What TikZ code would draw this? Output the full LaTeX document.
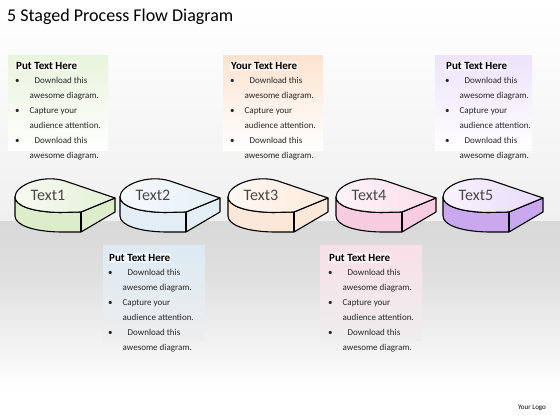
\documentclass[tikz,border=0pt]{standalone}
\usepackage{fontspec}
\setmainfont{Carlito}
\usepackage{xcolor}
\usetikzlibrary{positioning}

\definecolor{onetop}{HTML}{E3F0D4}
\definecolor{oneside}{HTML}{DDEDCB}
\definecolor{twotop}{HTML}{E4EEF7}
\definecolor{twoside}{HTML}{E3EDF5}
\definecolor{threetop}{HTML}{FCE9DA}
\definecolor{threeside}{HTML}{FBE8D8}
\definecolor{fourtop}{HTML}{FBDCEA}
\definecolor{fourside}{HTML}{F7CCE0}
\definecolor{fivetop}{HTML}{E7DAFA}
\definecolor{fiveside}{HTML}{CAA8F0}
\definecolor{onebox}{HTML}{E8F4DC}
\definecolor{twobox}{HTML}{DCEAF3}
\definecolor{threebox}{HTML}{FCE3D0}
\definecolor{fourbox}{HTML}{F8E0E8}
\definecolor{fivebox}{HTML}{EDE3FB}

\newcommand{\pointlist}{%
  \begin{tabular}{@{}l@{\hspace{10pt}}l@{}}
    \textbullet & \hspace{5pt}Download this\\
                & awesome diagram.\\
    \textbullet & Capture your\\
                & audience attention.\\
    \textbullet & \hspace{5pt}Download this\\
                & awesome diagram.
  \end{tabular}}

\begin{document}
\begin{tikzpicture}[
        x=1pt, y=1pt,
        dropline/.style={draw=black, line width=1.1pt, line join=round},
        stagelabel/.style={font=\fontsize{16}{18}\selectfont, text=black!72},
        notebox/.style={rectangle, inner sep=0pt, anchor=north west, minimum height=95pt},
        notetitle/.style={anchor=west, inner sep=1pt, fill=white, fill opacity=0.5, text opacity=1, font=\fontsize{11}{13}\selectfont\bfseries},
        notelist/.style={inner sep=0pt, font=\fontsize{9}{15}\selectfont, text=black!85}
    ]
    \useasboundingbox (0,0) rectangle (560,420);
    % background
    \fill[top color=white, bottom color=gray!12] (0,198) rectangle (560,420);
    \fill[top color=gray!30, bottom color=gray!26] (0,150) rectangle (560,198);
    \fill[top color=gray!26, bottom color=white] (0,30) rectangle (560,150);
    \fill[white] (0,0) rectangle (560,30);

    \node[anchor=base west, inner sep=0pt, font=\fontsize{18}{21}\selectfont] (heading) at (7,398) {5 Staged Process Flow Diagram};

    % note boxes
    \node[notebox, minimum width=100pt, top color=onebox, bottom color=white] (box1) at (8,365) {};
    \node[notebox, minimum width=102pt, top color=twobox, bottom color=gray!14] (box2) at (103,175) {};
    \node[notebox, minimum width=100pt, top color=threebox, bottom color=white] (box3) at (223,365) {};
    \node[notebox, minimum width=102pt, top color=fourbox, bottom color=gray!14] (box4) at (320,175) {};
    \node[notebox, minimum width=97pt, top color=fivebox, bottom color=white] (box5) at (435,365) {};

    \node[notetitle] (title1) at ([xshift=7pt, yshift=-11pt]box1.north west) {Put Text Here};
    \node[notetitle] (title2) at ([xshift=5pt, yshift=-13pt]box2.north west) {Put Text Here};
    \node[notetitle] (title3) at ([xshift=7pt, yshift=-11pt]box3.north west) {Your Text Here};
    \node[notetitle] (title4) at ([xshift=8pt, yshift=-13pt]box4.north west) {Put Text Here};
    \node[notetitle] (title5) at ([xshift=10pt, yshift=-11pt]box5.north west) {Put Text Here};

    \node[notelist, below=2pt of title1.south west, anchor=north west] (list1) {\pointlist};
    \node[notelist, below=2pt of title2.south west, anchor=north west] (list2) {\pointlist};
    \node[notelist, below=2pt of title3.south west, anchor=north west] (list3) {\pointlist};
    \node[notelist, below=2pt of title4.south west, anchor=north west] (list4) {\pointlist};
    \node[notelist, below=2pt of title5.south west, anchor=north west] (list5) {\pointlist};

    % stages
    \foreach \lx/\tint/\side [count=\i] in {15/onetop/oneside, 120/twotop/twoside, 228/threetop/threeside, 336/fourtop/fourside, 443/fivetop/fiveside}{
        \begin{scope}[shift={(\lx,223)}]
            \filldraw[dropline, fill=\side] (0,0) -- (0,-19) .. controls (0,-28) and (18,-34.5) .. (45,-35)
                -- (66,-35) -- (100,-15) -- (100,-1) -- (66,-15) -- (45,-15.5)
                .. controls (18,-15) and (0,-9) .. (0,0) -- cycle;
            \draw[dropline] (66,-15) -- (66,-35);
            \filldraw[dropline, left color=\tint!30!white, right color=\tint] (100,-1) -- (50,16)
                .. controls (28,23) and (0,12) .. (0,0)
                .. controls (0,-9) and (18,-15) .. (45,-15.5) -- (66,-15) -- cycle;
            \node[stagelabel] (stage\i) at (33,2) {Text\i};
        \end{scope}
    }

    \node[font=\fontsize{7}{8}\selectfont, inner sep=0pt] (logo) at (532,12) {Your Logo};
\end{tikzpicture}
\end{document}
